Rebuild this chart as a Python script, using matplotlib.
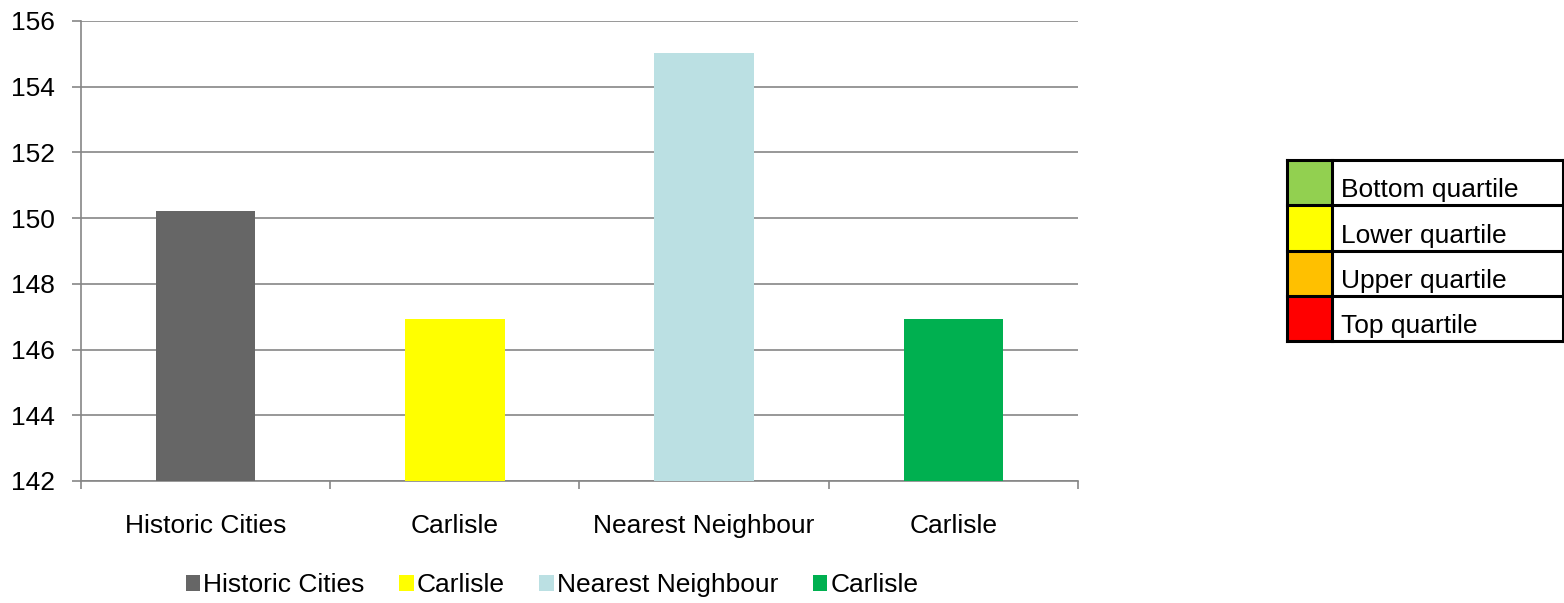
import matplotlib

matplotlib.use("Agg")
import matplotlib.pyplot as plt
from matplotlib.patches import Patch, Rectangle

plt.rcParams["font.family"] = ["Liberation Sans", "DejaVu Sans"]

categories = ["Historic Cities", "Carlisle", "Nearest Neighbour", "Carlisle"]
values = [150.22, 146.92, 155.04, 146.92]
bar_colors = ["#666666", "#FFFF00", "#BBE0E3", "#00B050"]
y_ticks = [142, 144, 146, 148, 150, 152, 154, 156]

quartile_labels = ["Bottom quartile", "Lower quartile", "Upper quartile", "Top quartile"]
quartile_colors = ["#92D050", "#FFFF00", "#FFC000", "#FF0000"]

W, H = 1564, 603
fig = plt.figure(figsize=(W / 100, H / 100), dpi=100)
ax = fig.add_axes([81 / W, 1 - 481 / H, (1078 - 81) / W, (481 - 21) / H])

grid_col = "#868686"
x = list(range(len(categories)))
ax.bar(x, values, width=0.4, color=bar_colors, bottom=0, zorder=3)
ax.set_xlim(-0.5, len(categories) - 0.5)
ax.set_ylim(y_ticks[0], y_ticks[-1])
ax.set_yticks(y_ticks)
ax.set_yticklabels([str(v) for v in y_ticks], fontsize=19)
ax.yaxis.grid(True, color=grid_col, linewidth=1.2, zorder=0)
ax.set_axisbelow(True)

ax.set_xticks(x)
ax.set_xticklabels(categories, fontsize=19)
ax.set_xticks([i - 0.5 for i in range(len(categories) + 1)], minor=True)
ax.tick_params(axis="x", which="major", length=0, pad=24)
ax.tick_params(axis="x", which="minor", length=5.5, width=1.2, color=grid_col)
ax.tick_params(axis="y", length=6.5, width=1.2, color=grid_col, pad=12)

for side in ("top", "right"):
    ax.spines[side].set_visible(False)
for side in ("left", "bottom"):
    ax.spines[side].set_color(grid_col)
    ax.spines[side].set_linewidth(1.2)

handles = [Patch(facecolor=c, edgecolor="none") for c in bar_colors]
fig.legend(handles, categories, loc="center", bbox_to_anchor=(552 / W, 1 - 585 / H),
           ncol=4, frameon=False, fontsize=19, handlelength=0.55, handleheight=0.55,
           handletextpad=0.12, columnspacing=1.3)

# quartile key table drawn in pixel coordinates
tab = fig.add_axes([0, 0, 1, 1])
tab.set_xlim(0, W)
tab.set_ylim(H, 0)
tab.axis("off")
left, mid, right, top, row_h = 1287, 1332, 1563, 160, 45.3
for i, (lab, col) in enumerate(zip(quartile_labels, quartile_colors)):
    y0 = top + i * row_h
    tab.add_patch(Rectangle((left, y0), mid - left, row_h, facecolor=col, edgecolor="none"))
    tab.text(mid + 9, y0 + row_h - 8, lab, fontsize=19, va="baseline", ha="left")
    tab.plot([left, right], [y0, y0], color="black", linewidth=2.2, solid_capstyle="projecting")
bottom = top + len(quartile_labels) * row_h
tab.plot([left, right], [bottom, bottom], color="black", linewidth=2.2, solid_capstyle="projecting")
for xv in (left, mid, right):
    tab.plot([xv, xv], [top, bottom], color="black", linewidth=2.2, solid_capstyle="projecting")

fig.savefig("out.png", dpi=100)
